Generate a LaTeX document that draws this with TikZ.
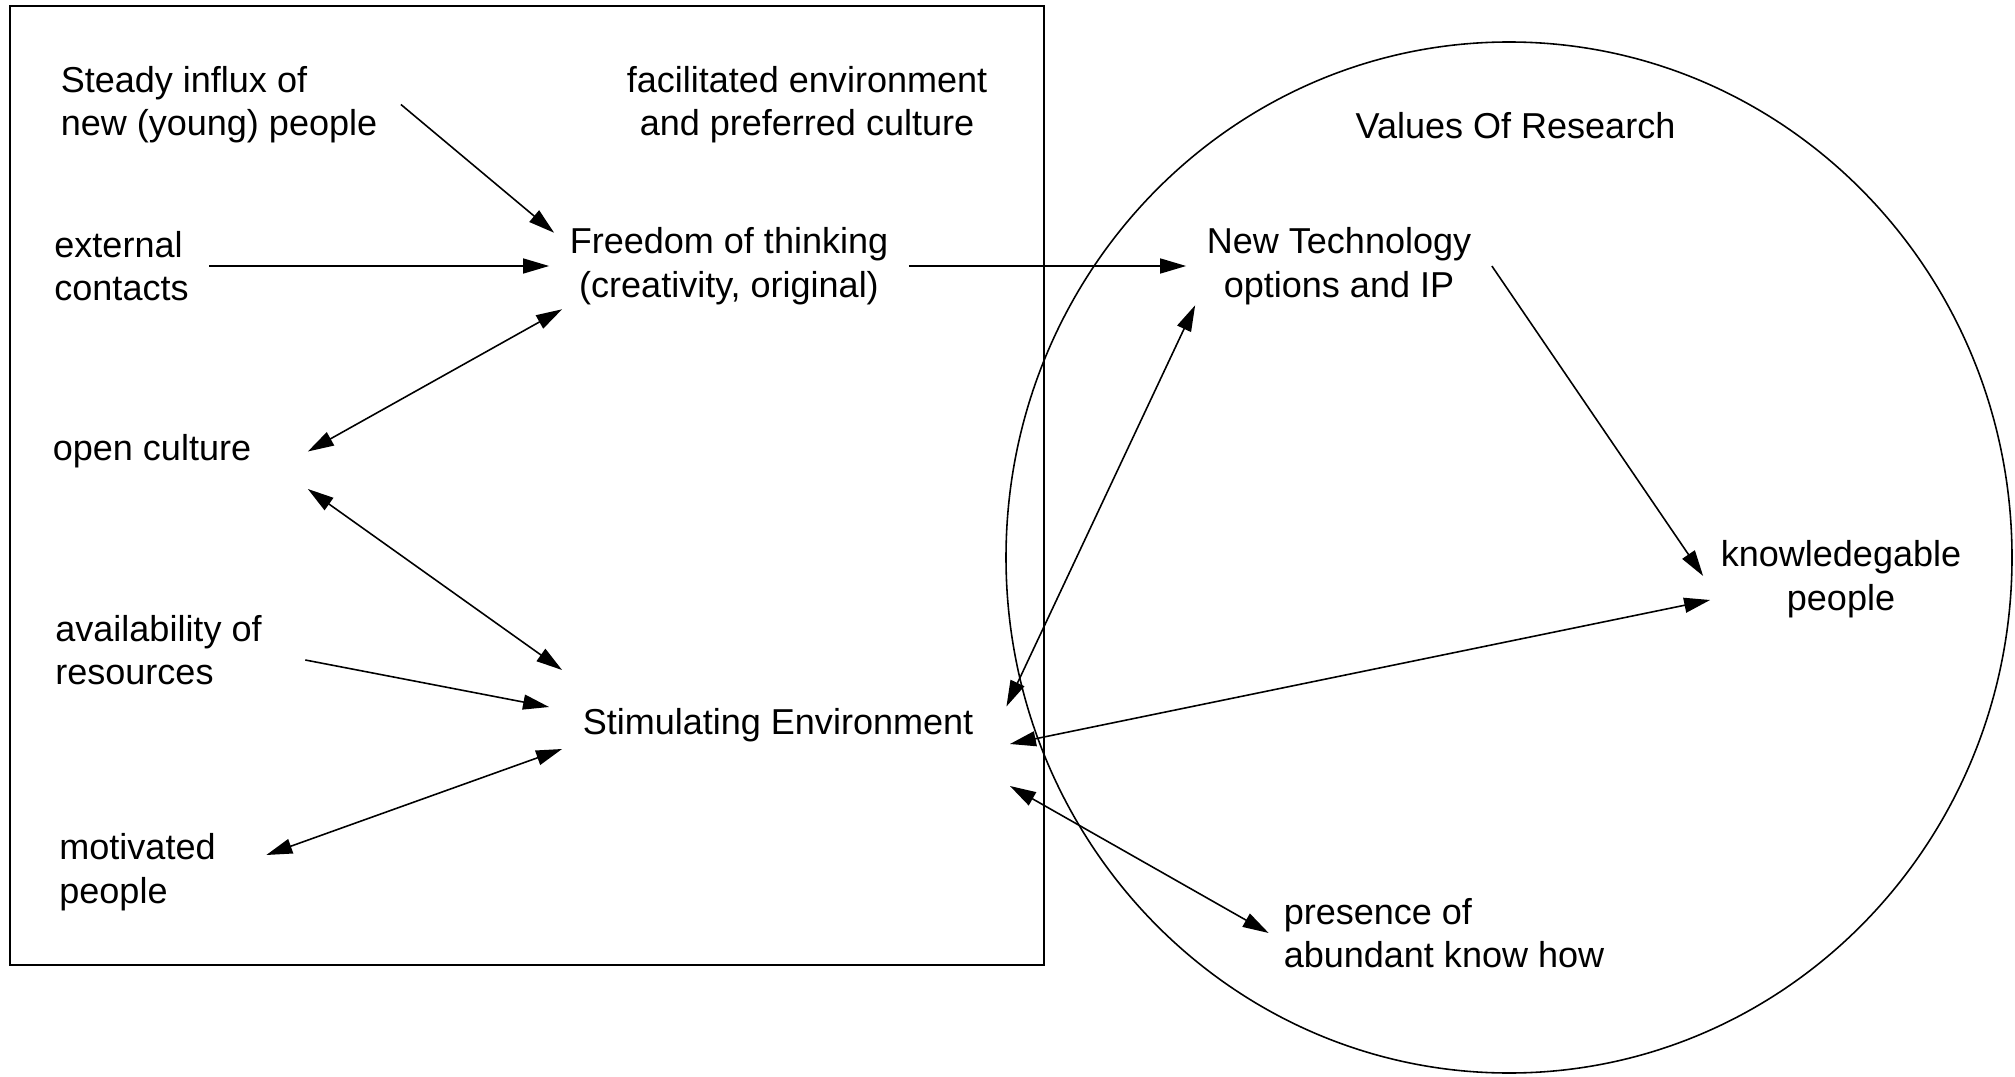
\documentclass[tikz,border=0pt]{standalone}
\usepackage{fontspec}
\setmainfont{Liberation Sans}
\usetikzlibrary{arrows.meta}

\begin{document}
\begin{tikzpicture}[
    lbl/.style={inner sep=2mm, font=\fontsize{10.25}{12.4}\selectfont},
    arr/.style={-{Triangle[length=2.6mm,width=1.5mm]}, line width=0.45pt},
    dblarr/.style={{Triangle[length=2.6mm,width=1.5mm]}-{Triangle[length=2.6mm,width=1.5mm]}, line width=0.45pt}
]
    \useasboundingbox (0,0) rectangle (20.15,10.76);

    % Frame and circle
    \draw[line width=0.5pt] (0.10,1.11) rectangle (10.44,10.70);
    \draw[line width=0.45pt] (15.09,5.185) ellipse (5.03 and 5.155);

    % Labels inside the frame
    \node[lbl, align=left] (steady) at (2.19,9.715) {Steady influx of\\new (young) people};
    \node[lbl, align=center] (facil) at (8.07,9.715) {facilitated environment\\and preferred culture};
    \node[lbl, align=left] (external) at (1.215,8.10) {external\\contacts};
    \node[lbl, align=center] (freedom) at (7.29,8.10) {Freedom of thinking\\(creativity, original)};
    \node[lbl] (openc) at (1.52,6.245) {open culture};
    \node[lbl, align=left] (avail) at (1.585,4.26) {availability of\\resources};
    \node[lbl] (stim) at (7.78,3.51) {Stimulating Environment};
    \node[lbl, align=left] (motiv) at (1.375,2.04) {motivated\\people};

    % Labels inside the circle
    \node[lbl] (values) at (15.155,9.50) {Values Of Research};
    \node[lbl, align=center] (newtech) at (13.39,8.10) {New Technology\\options and IP};
    \node[lbl, align=center] (knowl) at (18.41,4.97) {knowledegable\\people};
    \node[lbl, align=left] (presence) at (14.44,1.43) {presence of\\abundant know how};

    % Arrows towards freedom of thinking
    \draw[arr] ([xshift=0.3mm]steady.east) -- ([xshift=0.5mm,yshift=-0.5mm]freedom.168);
    \draw[arr] (external.east) -- (freedom.west);
    \draw[dblarr] ([xshift=3.6mm]openc.east) -- ([xshift=1.3mm,yshift=1.6mm]freedom.south west);

    % Arrows towards stimulating environment
    \draw[dblarr] ([xshift=3.6mm]openc.south east) -- ([yshift=1.75mm]stim.north west);
    \draw[arr] ([xshift=2.3mm,yshift=-1mm]avail.east) -- ([xshift=-1.3mm,yshift=1.8mm]stim.west);
    \draw[dblarr] ([xshift=3mm,yshift=1.7mm]motiv.east) -- ([yshift=1.35mm]stim.south west);

    % Arrows to the values of research
    \draw[arr] (freedom.east) -- (newtech.west);
    \draw[dblarr] ([xshift=1.25mm,yshift=1.85mm]stim.east) -- ([xshift=0.9mm,yshift=2mm]newtech.south west);
    \draw[arr] (newtech.east) -- ([xshift=0.3mm,yshift=0.3mm]knowl.west);
    \draw[dblarr] ([xshift=1.6mm,yshift=-1.9mm]stim.east) -- ([xshift=1mm,yshift=-2.1mm]knowl.west);
    \draw[dblarr] ([xshift=1.6mm,yshift=-2.35mm]stim.south east) -- ([xshift=0.56mm]presence.west);
\end{tikzpicture}
\end{document}
